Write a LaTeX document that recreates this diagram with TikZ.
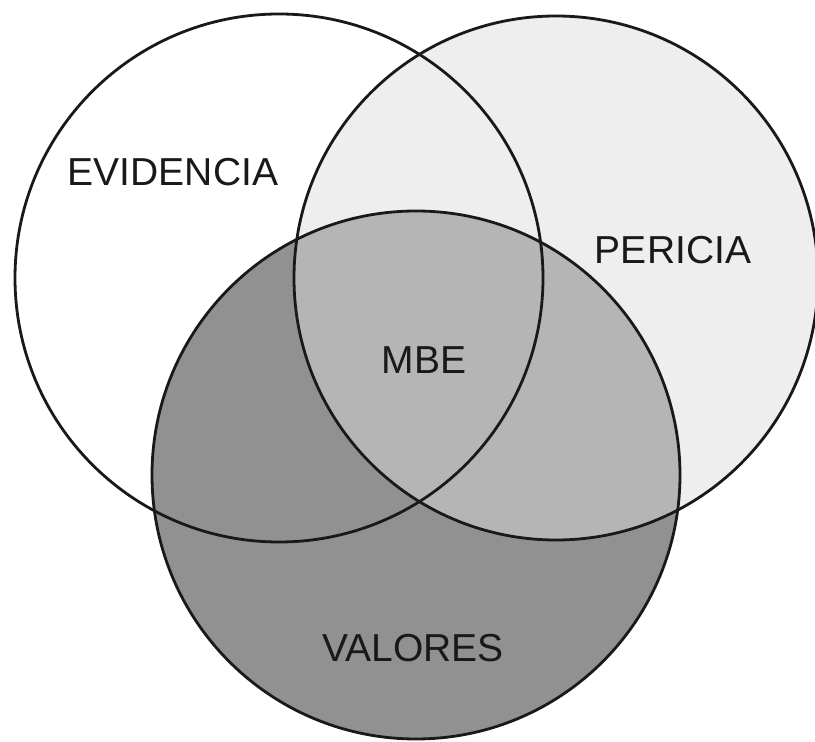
\documentclass[tikz,border=0pt]{standalone}
\usepackage{xcolor,tikz}
\usepackage{fontspec}
\setmainfont{Liberation Sans}

\begin{document}
\begin{tikzpicture}[x=1pt,y=1pt]
\definecolor{fillColor}{RGB}{255,255,255}
\definecolor{drawColor}{gray}{0.10}
\definecolor{lightFill}{RGB}{238,238,238}
\definecolor{darkFill}{RGB}{145,145,145}
\definecolor{midFill}{RGB}{181,181,181}
\tikzset{ring/.style={draw=drawColor,line width= 2.8pt},
  vennlabel/.style={text=drawColor,anchor=center,inner sep=0pt, outer sep=0pt,
    font=\fontsize{39}{40}\selectfont}}
\path[use as bounding box,fill=fillColor] (0,0) rectangle (815.00,742.00);
\begin{scope}
\path[clip] (0,0) rectangle (815.00,742.00);

\path[fill=fillColor] (279.00,464.00) circle (264.00);

\path[fill=lightFill] (556.00,464.00) circle (262.00);

\path[fill=darkFill] (416.00,267.00) circle (264.00);

\begin{scope}
\path[clip] (556.00,464.00) circle (262.00);
\path[fill=midFill] (416.00,267.00) circle (264.00);
\end{scope}

\path[ring] (279.00,464.00) circle (264.00);

\path[ring] (556.00,464.00) circle (262.00);

\path[ring] (416.00,267.00) circle (264.00);
\end{scope}

\node[vennlabel] (evidencia) at (173.00,570.00) {EVIDENCIA};

\node[vennlabel] (pericia) at (673.00,492.00) {PERICIA};

\node[vennlabel] (mbe) at (424.00,382.00) {MBE};

\node[vennlabel] (valores) at (413.00, 94.00) {VALORES};
\end{tikzpicture}
\end{document}
